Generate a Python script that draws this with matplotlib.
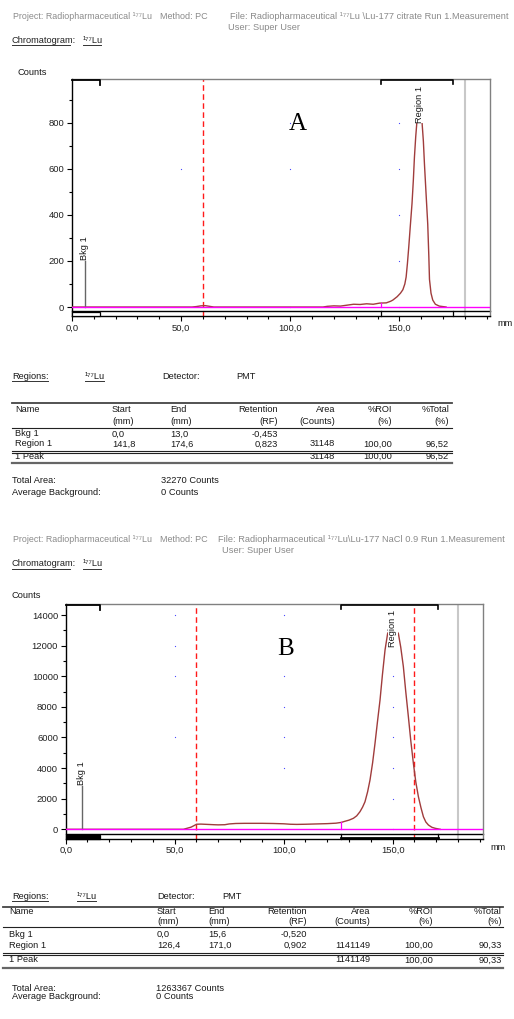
import numpy as np
import matplotlib
matplotlib.use('Agg')
import matplotlib.pyplot as plt
from matplotlib.patches import Rectangle
from matplotlib.transforms import blended_transform_factory

plt.rcParams['font.family'] = ['Liberation Sans', 'DejaVu Sans']

# ---- chromatogram A (Lu-177 citrate) ----
a_mm = [0, 55, 57, 59, 61, 63, 65, 115, 117, 120, 123, 126, 129, 132, 135, 138, 141, 144,
        146, 147, 149, 150.5, 151.6, 152.5, 153.1, 153.7, 154.3, 155, 155.8, 156.4, 156.9,
        157.5, 158, 158.6, 159.3, 160, 160.4, 161, 161.5, 162.3, 163, 163.5, 163.8, 164.5,
        165.3, 166.5, 168.3, 171.4]
a_counts = [0, 0, 2, 5, 6, 3, 0, 0, 3, 5, 4, 8, 12, 11, 14, 12, 17, 18,
            25, 30, 45, 60, 75, 100, 130, 190, 260, 350, 450, 550, 650,
            740, 800, 835, 845, 830, 800, 720, 620, 480, 360, 220, 120, 60,
            30, 12, 4, 0]
a_bkg = (0.0, 13.0)
a_region = (141.8, 174.6)
a_dashed = [60]
a_yticks = [0, 200, 400, 600, 800]
a_dots = [(50, 600), (100, 800), (100, 600), (100, 0), (150, 800), (150, 600),
          (150, 400), (150, 200), (150, 0)]

# ---- chromatogram B (Lu-177 NaCl 0.9) ----
b_mm = [0, 54, 55.5, 57.5, 59, 60, 62, 65, 68, 70, 73, 75, 78, 82, 86, 90, 95, 100, 103,
        106, 110, 115, 120, 124, 126.4, 128, 130, 132, 133.5, 135, 136.2, 137.3, 138.5,
        139.6, 140.8, 141.9, 143, 144.2, 145.3, 146.5, 147.7, 148.9, 150, 151.3, 152.6,
        153.7, 154.9, 156, 157.2, 158.3, 159.5, 160.6, 161.8, 163, 164.1, 165.2, 166.4,
        168, 169.5, 171.8]
b_counts = [0, 0, 60, 140, 250, 330, 340, 320, 300, 290, 300, 350, 380, 390, 390, 390, 380,
            360, 330, 320, 330, 350, 370, 400, 450, 520, 600, 720, 880, 1150, 1450, 1800,
            2450, 3220, 4350, 5620, 7000, 8450, 10100, 11720, 12800, 13050, 13100, 13050,
            12800, 11900, 10630, 9000, 7360, 5800, 4310, 3100, 2130, 1400, 820, 480, 280,
            130, 65, 0]
b_bkg = (0.0, 15.6)
b_region = (126.4, 171.0)
b_dashed = [60, 160]
b_yticks = [0, 2000, 4000, 6000, 8000, 10000, 12000, 14000]
b_dots = [(50, 14000), (50, 12000), (50, 10000), (50, 6000), (100, 14000), (100, 10000),
          (100, 8000), (100, 6000), (100, 4000), (150, 10000), (150, 8000), (150, 6000),
          (150, 4000), (150, 2000), (150, 0)]

x_ticks = [0, 50, 100, 150]
x_labels = ['0,0', '50,0', '100,0', '150,0']

# ---- region tables ----
col_heads = ['Name', 'Start', 'End', 'Retention', 'Area', '%ROI', '%Total']
col_units = ['', '(mm)', '(mm)', '(RF)', '(Counts)', '(%)', '(%)']
a_rows = [['Bkg 1', '0,0', '13,0', '-0,453', '', '', ''],
          ['Region 1', '141,8', '174,6', '0,823', '31148', '100,00', '96,52']]
a_peak = ['1 Peak', '', '', '', '31148', '100,00', '96,52']
a_total = '32270 Counts'
b_rows = [['Bkg 1', '0,0', '15,6', '-0,520', '', '', ''],
          ['Region 1', '126,4', '171,0', '0,902', '1141149', '100,00', '90,33']]
b_peak = ['1 Peak', '', '', '', '1141149', '100,00', '90,33']
b_total = '1263367 Counts'
avg_bg = '0 Counts'

W, H = 514, 1019
fig = plt.figure(figsize=(W / 100, H / 100), dpi=100)
bg = fig.add_axes([0, 0, 1, 1])
bg.set_xlim(0, W)
bg.set_ylim(H, 0)
bg.axis('off')

TXT = '#1a1a1a'
GRAY = '#8a8a8a'
FS = 6.7


def rect(l, t, r, b):
    return [l / W, 1 - b / H, (r - l) / W, (b - t) / H]


def txt(x, y, s, ha='left', color=TXT, size=FS, **kw):
    bg.text(x, y, s, ha=ha, va='center', color=color, fontsize=size, **kw)


def uline(x0, x1, y):
    bg.plot([x0, x1], [y, y], color='#333333', lw=0.7)


def header(y0, file_s, file_x, user_x):
    txt(13, y0, 'Project: Radiopharmaceutical \u00b9\u2077\u2077Lu', color=GRAY, size=6.4)
    txt(160, y0, 'Method: PC', color=GRAY, size=6.5)
    txt(file_x, y0, file_s, color=GRAY)
    txt(user_x, y0 + 10.5, 'User: Super User', color=GRAY)
    txt(12, y0 + 24, 'Chromatogram:', color='#222222')
    txt(83, y0 + 24, '\u00b9\u2077\u2077Lu', color='#222222')
    uline(12, 70, y0 + 28.5)
    uline(83, 101, y0 + 28.5)


def chrom(ax, mm, counts, ylim, yticks, yminor, bkg, region, dashed, dots,
          bkg_line_top, bkg_x, fill_bkg, letter, letter_xy, reg_label_y):
    ax.plot(mm, counts, color='#a03c3c', lw=1.0, zorder=3)
    ax.axhline(0, color='#ff00ff', lw=1.0, zorder=4)
    for d in dashed:
        ax.axvline(d, color='#ff1a1a', lw=1.0, ls=(0, (4, 2.5)), zorder=2)
    ax.axvline(180, color='#c8c8c8', lw=1.5, zorder=1)
    dx, dy = zip(*dots)
    ax.plot(dx, dy, ls='none', marker='s', ms=0.8, mew=0, color='#4a4aff', zorder=2)
    # region start drop line
    i = np.searchsorted(mm, region[0])
    ax.plot([region[0], region[0]], [0, counts[i]], color='#ff00ff', lw=0.9, zorder=4)
    # background marker
    ax.plot([bkg_x, bkg_x], [0, bkg_line_top], color='#666666', lw=1.0, zorder=3)
    ax.text(bkg_x, bkg_line_top * 1.02, 'Bkg 1', rotation=90, ha='center', va='bottom',
            fontsize=FS, color=TXT)
    ax.text(mm[int(np.argmax(counts))], reg_label_y, 'Region 1', rotation=90, ha='center',
            va='bottom', fontsize=FS, color=TXT, zorder=5,
            bbox=dict(facecolor='white', edgecolor='none', pad=0.3))
    ax.text(letter_xy[0], letter_xy[1], letter, fontsize=18, family='Liberation Serif',
            ha='center', va='center', transform=ax.transAxes)

    tr = blended_transform_factory(ax.transData, ax.transAxes)
    ax.plot([0, 1], [0.021, 0.021], color='black', lw=1.0, transform=ax.transAxes,
            clip_on=False)
    ax.add_patch(Rectangle((bkg[0], 0.0), bkg[1] - bkg[0], 0.015, transform=tr,
                           facecolor='black' if fill_bkg else 'white',
                           edgecolor='black', lw=0.9, clip_on=False, zorder=5))
    ax.plot([bkg[0], bkg[1], bkg[1]], [0.995, 0.995, 0.975], color='black', lw=1.3,
            transform=tr, clip_on=False, zorder=5)
    ax.plot([region[0], region[0], region[1], region[1]], [0.98, 0.997, 0.997, 0.98],
            color='black', lw=1.2, transform=tr, clip_on=False, zorder=5)
    for r in region:
        ax.plot([r, r], [0.0, 0.021], color='black', lw=0.9, transform=tr, clip_on=False)
    if fill_bkg:
        ax.plot([region[0], region[1]], [0.004, 0.004], color='black', lw=2.0,
                transform=tr, clip_on=False)

    ax.set_xlim(0, 191.3)
    ax.set_ylim(*ylim)
    ax.set_xticks(x_ticks)
    ax.set_xticklabels(x_labels)
    ax.set_xticks(np.arange(0, 191, 10), minor=True)
    ax.set_yticks(yticks)
    ax.set_yticklabels([str(v) for v in yticks])
    ax.set_yticks(yminor, minor=True)
    ax.tick_params(which='both', direction='out', width=0.8, labelsize=6.8,
                   labelcolor='#222222', pad=2)
    ax.tick_params(which='major', length=3.5)
    ax.tick_params(which='minor', length=2.5)
    for s in ('top', 'right'):
        ax.spines[s].set_color('#808080')
    ax.spines['left'].set_color('black')
    ax.spines['bottom'].set_color('black')
    for s in ax.spines.values():
        s.set_linewidth(1.0)


def table(top, x_left, x_right, cols, rows, peak, total, regions_y, reg_x, line_ys):
    txt(12, regions_y, 'Regions:')
    uline(12, 48, regions_y + 4.5)
    txt(reg_x[0], regions_y, '\u00b9\u2077\u2077Lu')
    uline(reg_x[0], reg_x[0] + 19, regions_y + 4.5)
    txt(reg_x[1], regions_y, 'Detector:')
    txt(reg_x[2], regions_y, 'PMT')
    hy1, hy2, r1, r2, py, ty, ay = top
    for j, (h, u) in enumerate(zip(col_heads, col_units)):
        ha = 'left' if j < 3 else 'right'
        txt(cols[j], hy1, h, ha=ha)
        if u:
            txt(cols[j], hy2, u, ha=ha)
    for ry, row in zip([r1, r2], rows):
        for j, v in enumerate(row):
            txt(cols[j], ry, v, ha='left' if j < 3 else 'right')
    for j, v in enumerate(peak):
        txt(cols[j], py, v, ha='left' if j < 3 else 'right')
    l_top, l_head, l_d1, l_d2, l_bot = line_ys
    bg.plot([x_left, x_right], [l_top, l_top], color='#444444', lw=1.3)
    bg.plot([x_left, x_right], [l_head, l_head], color='#222222', lw=0.8)
    bg.plot([x_left, x_right], [l_d1, l_d1], color='#222222', lw=0.8)
    bg.plot([x_left, x_right], [l_d2, l_d2], color='#222222', lw=0.8)
    bg.plot([x_left, x_right], [l_bot, l_bot], color='#666666', lw=1.6)
    txt(12, ty, 'Total Area:')
    txt(reg_x[1] - 1, ty, total)
    txt(12, ay, 'Average Background:')
    txt(reg_x[1] - 1, ay, avg_bg)


# ---------- panel A ----------
header(16.7, 'File: Radiopharmaceutical \u00b9\u2077\u2077Lu \\Lu-177 citrate Run 1.Measurement',
       230, 228)
txt(17, 72.7, 'Counts')
axA = fig.add_axes(rect(72, 79, 489.5, 316))
chrom(axA, a_mm, a_counts, (-39, 990), a_yticks, np.arange(0, 1000, 100), a_bkg,
      a_region, a_dashed, a_dots, 200, 5.8, False, 'A', (0.541, 0.81), 800)
txt(497, 324, 'mm')
table((410, 421.7, 434, 444, 456.7, 480.7, 492.3), 12, 452,
      [15, 112, 170, 278, 335, 392, 449], a_rows, a_peak, a_total, 376.7,
      (85, 162, 236), (403.3, 428.3, 450.7, 452.5, 463.3))

# ---------- panel B ----------
header(540, 'File: Radiopharmaceutical \u00b9\u2077\u2077Lu\\Lu-177 NaCl 0.9 Run 1.Measurement',
       218, 222)
txt(11, 596, 'Counts')
axB = fig.add_axes(rect(65.7, 604, 482.7, 838.5))
chrom(axB, b_mm, b_counts, (-601, 14720), b_yticks, np.arange(0, 15000, 1000), b_bkg,
      b_region, b_dashed, b_dots, 2830, 7.4, True, 'B', (0.527, 0.81), 11900)
txt(490, 848, 'mm')
table((911.7, 921.7, 934.3, 945.7, 960, 988.3, 996.7), 3, 503,
      [9, 157, 208, 307, 370, 433, 502], b_rows, b_peak, b_total, 896.7,
      (77, 157, 222), (906.7, 926.7, 952.5, 954.5, 967.7))

fig.savefig('out.png', dpi=100)
